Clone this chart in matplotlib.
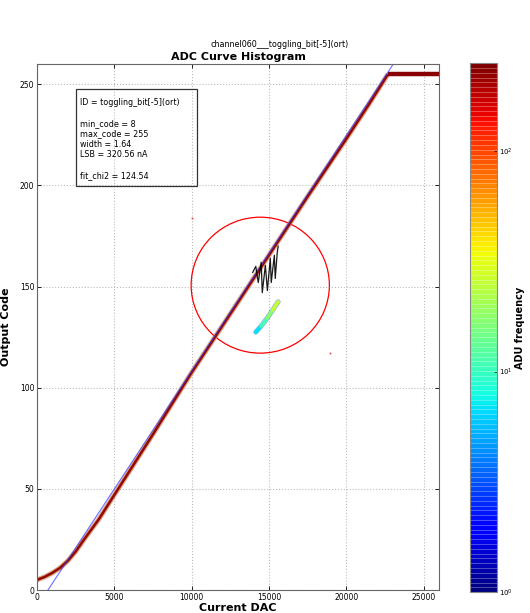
import numpy as np
import matplotlib
matplotlib.use("Agg")
import matplotlib.pyplot as plt
from matplotlib.colors import LogNorm
from matplotlib.collections import LineCollection
from matplotlib.patches import Ellipse, Rectangle
import matplotlib.cm as cm

# ADC transfer curve (histogram ridge)
curve_dac = [0, 500, 1000, 1500, 2000, 2500, 3000, 4000, 5000, 7500, 10000,
             12500, 15000, 17500, 20000, 21500, 22700]
curve_code = [5, 6.5, 8.5, 11, 14.5, 19, 24.5, 35, 47, 77, 107.5,
              136.5, 165.5, 194.5, 223, 240.5, 255]

# saturated plateau
top_dac = [22700, 26000]
top_code = [255, 255]

# linear fit
fit_dac = [710, 23300]
fit_code = [0, 263]

# noisy mean trace in the glitch region
glitch_dac = [13950, 14150, 14310, 14500, 14570, 14770, 14900, 15090, 15150,
              15350, 15410, 15540, 15600]
glitch_code = [157, 160, 152, 162, 147, 160.5, 148, 164, 152, 165.5, 154,
               167, 170]

# low-count side branch
branch_dac = [14150, 14500, 14900, 15250, 15600]
branch_code = [127.5, 130.5, 134.5, 138.5, 142.5]
branch_count = [7, 11, 17, 26, 40]

# stray bins
stray_dac = [10040, 18980]
stray_code = [184, 117]

info_lines = ["ID = toggling_bit[-5](ort)", "", "min_code = 8", "max_code = 255",
              "width = 1.64", "LSB = 320.56 nA", "", "fit_chi2 = 124.54"]

plt.rcParams["font.family"] = "DejaVu Sans"
cmap = plt.get_cmap("jet", 110)
norm = LogNorm(vmin=1, vmax=250)

fig = plt.figure(figsize=(5.3, 6.13), dpi=100)
ax = fig.add_axes([0.0698, 0.0375, 0.7585, 0.858])
cax = fig.add_axes([0.887, 0.034, 0.051, 0.863])

ax.grid(True, color="#bbbbbb", linestyle=":", linewidth=0.8)
ax.set_axisbelow(True)

# curve: fringe + core
ax.plot(curve_dac, curve_code, color="#5050c0", lw=3.8, alpha=0.3, solid_capstyle="butt")
ax.plot(curve_dac, curve_code, color="#ff8c1a", lw=3.0, alpha=0.7, solid_capstyle="butt")
ax.plot(curve_dac, curve_code, color="#8e0a0a", lw=1.8, solid_capstyle="butt")
ax.plot(top_dac, top_code, color="#8a0000", lw=3.2, solid_capstyle="butt")

ax.plot(fit_dac, fit_code, color="#3333ff", lw=0.8, alpha=0.7)

# side branch
ax.plot(branch_dac, branch_code, color="#2050d0", lw=3.6, alpha=0.45, solid_capstyle="round")
pts = np.column_stack([branch_dac, branch_code]).reshape(-1, 1, 2)
segs = np.concatenate([pts[:-1], pts[1:]], axis=1)
lc = LineCollection(segs, cmap=cmap, norm=norm, linewidths=2.6, capstyle="round")
lc.set_array(np.array(branch_count[:-1]))
ax.add_collection(lc)

ax.plot(glitch_dac, glitch_code, color="black", lw=0.9, alpha=0.9)
ax.plot(stray_dac, stray_code, ls="none", marker="s", ms=1.2, color="#e04040", mew=0)

circ = Ellipse((14440, 150.7), width=2 * 4470, height=2 * 33.6, fill=False,
               edgecolor="red", lw=0.9)
ax.add_patch(circ)

# info box
ax.add_patch(Rectangle((0.097, 0.768), 0.301, 0.1845, transform=ax.transAxes,
                       fill=False, edgecolor="#333333", lw=0.9))
ax.text(0.107, 0.935, "\n".join(info_lines), transform=ax.transAxes,
        fontsize=5.8, va="top", ha="left", linespacing=1.2)

ax.set_xlim(0, 26000)
ax.set_ylim(0, 260)
ax.set_xticks(range(0, 26000, 5000))
ax.set_yticks(range(0, 260, 50))
ax.tick_params(direction="in", top=True, right=True, labelsize=5.5, length=3,
               width=0.6, pad=2)
for s in ax.spines.values():
    s.set_color("#666666")
ax.set_xlabel("Current DAC", fontsize=8, fontweight="bold", labelpad=1)
ax.set_ylabel("Output Code", fontsize=8, fontweight="bold", labelpad=6)
ax.set_title("ADC Curve Histogram", fontsize=8, fontweight="bold", pad=3)
fig.text(0.528, 0.927, "channel060___toggling_bit[-5](ort)", fontsize=5.8,
         ha="center", va="center")

sm = cm.ScalarMappable(norm=norm, cmap=cmap)
cb = fig.colorbar(sm, cax=cax, drawedges=True)
cb.dividers.set_color("white")
cb.dividers.set_alpha(0.35)
cb.dividers.set_linewidth(0.6)
cb.outline.set_edgecolor("#888888")
cb.ax.tick_params(labelsize=5, length=2, width=0.5, direction="in", which="major", pad=1)
cb.ax.tick_params(which="minor", length=0)
cb.set_label("ADU frequency", fontsize=7, fontweight="bold", labelpad=2)

fig.savefig("out.png", dpi=100)
